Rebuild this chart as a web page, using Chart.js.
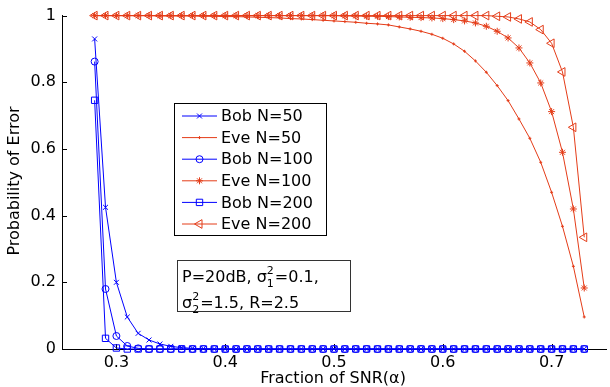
<!DOCTYPE html>
<html>
<head>
<meta charset="utf-8">
<script src="https://cdn.jsdelivr.net/npm/chart.js@4"></script>
<style>
  html, body { margin: 0; padding: 0; background: #fff; overflow: hidden; }
  #contenedor { position: relative; width: 612px; height: 387px; }
</style>
</head>
<body>
<div id="contenedor"><canvas id="grafico"></canvas></div>
<script>
// fraction of SNR (alpha)
const alpha = [
  0.28, 0.29, 0.30, 0.31, 0.32, 0.33, 0.34, 0.35, 0.36, 0.37,
  0.38, 0.39, 0.40, 0.41, 0.42, 0.43, 0.44, 0.45, 0.46, 0.47,
  0.48, 0.49, 0.50, 0.51, 0.52, 0.53, 0.54, 0.55, 0.56, 0.57,
  0.58, 0.59, 0.60, 0.61, 0.62, 0.63, 0.64, 0.65, 0.66, 0.67,
  0.68, 0.69, 0.70, 0.71, 0.72, 0.73
];

const bobN50 = [
  0.93, 0.425, 0.2, 0.096, 0.047, 0.027, 0.015, 0.008, 0.004, 0.002,
  0.001, 0, 0, 0, 0, 0, 0, 0, 0, 0,
  0, 0, 0, 0, 0, 0, 0, 0, 0, 0,
  0, 0, 0, 0, 0, 0, 0, 0, 0, 0,
  0, 0, 0, 0, 0, 0
];
const eveN50 = [
  1, 1, 1, 1, 1, 1, 0.999, 0.999, 0.999, 0.999,
  0.998, 0.998, 0.997, 0.997, 0.996, 0.995, 0.994, 0.993, 0.991, 0.990,
  0.988, 0.986, 0.984, 0.982, 0.980, 0.977, 0.975, 0.972, 0.966, 0.960,
  0.953, 0.944, 0.932, 0.915, 0.893, 0.864, 0.830, 0.790, 0.745, 0.690,
  0.632, 0.560, 0.470, 0.368, 0.248, 0.096
];
const bobN100 = [
  0.862, 0.18, 0.039, 0.009, 0.002, 0, 0, 0, 0, 0,
  0, 0, 0, 0, 0, 0, 0, 0, 0, 0,
  0, 0, 0, 0, 0, 0, 0, 0, 0, 0,
  0, 0, 0, 0, 0, 0, 0, 0, 0, 0,
  0, 0, 0, 0, 0, 0
];
const eveN100 = [
  1, 1, 1, 1, 1, 1, 1, 1, 1, 1,
  1, 1, 1, 1, 1, 1, 1, 1, 1, 1,
  1, 1, 1, 0.999, 0.999, 0.998, 0.998, 0.997, 0.996, 0.995,
  0.994, 0.993, 0.991, 0.988, 0.984, 0.978, 0.968, 0.953, 0.933, 0.903,
  0.858, 0.798, 0.712, 0.590, 0.420, 0.183
];
const bobN200 = [
  0.746, 0.032, 0.003, 0, 0, 0, 0, 0, 0, 0,
  0, 0, 0, 0, 0, 0, 0, 0, 0, 0,
  0, 0, 0, 0, 0, 0, 0, 0, 0, 0,
  0, 0, 0, 0, 0, 0, 0, 0, 0, 0,
  0, 0, 0, 0, 0, 0
];
const eveN200 = [
  1, 1, 1, 1, 1, 1, 1, 1, 1, 1,
  1, 1, 1, 1, 1, 1, 1, 1, 1, 1,
  1, 1, 1, 1, 1, 1, 1, 1, 1, 1,
  1, 1, 1, 1, 1, 1, 1, 0.998, 0.996, 0.990,
  0.981, 0.958, 0.917, 0.831, 0.665, 0.335
];

const xTicks = [0.3, 0.4, 0.5, 0.6, 0.7];
const yTicks = [0, 0.2, 0.4, 0.6, 0.8, 1];

const AZUL = "#0000ff";
const ROJO = "#e43c18";
const FUENTE = "'DejaVu Sans', sans-serif";

const puntos = serie => alpha.map((a, i) => ({ x: a, y: serie[i] }));

function serie(label, datos, color, estilo, radio, rot = 0) {
  return {
    label,
    data: puntos(datos),
    borderColor: color,
    backgroundColor: "rgba(0,0,0,0)",
    borderWidth: 1,
    pointStyle: estilo,
    pointRadius: radio,
    pointRotation: rot,
    pointBorderColor: color,
    pointBackgroundColor: "rgba(0,0,0,0)",
    pointBorderWidth: 1,
    tension: 0,
    clip: false,
  };
}

const datasets = [
  serie("Bob N=50", bobN50, AZUL, "crossRot", 3.5),
  serie("Eve N=50", eveN50, ROJO, "cross", 1.5),
  serie("Bob N=100", bobN100, AZUL, "circle", 3.5),
  serie("Eve N=100", eveN100, ROJO, "star", 3.5),
  serie("Bob N=200", bobN200, AZUL, "rect", 4.5),
  serie("Eve N=200", eveN200, ROJO, "triangle", 5, -90),
];
datasets.forEach((d, i) => (d.order = datasets.length - i));

// texto con super/subindices
function textoRico(ctx, partes, x, y) {
  let cx = x;
  partes.forEach(([t, tipo, t2]) => {
    if (tipo === "n") {
      ctx.font = `16px ${FUENTE}`;
      ctx.fillText(t, cx, y);
      cx += ctx.measureText(t).width;
    } else {
      ctx.font = `11px ${FUENTE}`;
      ctx.fillText(t, cx, y - 8);
      ctx.fillText(t2, cx, y + 5);
      cx += Math.max(ctx.measureText(t).width, ctx.measureText(t2).width) + 1;
    }
  });
}

const decoracion = {
  id: "decoracion",
  beforeDatasetsDraw(chart) {
    const { ctx, chartArea: a, scales: { x, y } } = chart;
    ctx.save();
    ctx.strokeStyle = "#000";
    ctx.lineWidth = 1;
    ctx.beginPath();
    xTicks.forEach(v => {
      const px = Math.round(x.getPixelForValue(v)) + 0.5;
      ctx.moveTo(px, a.bottom);
      ctx.lineTo(px, a.bottom - 5);
    });
    yTicks.forEach(v => {
      const py = Math.round(y.getPixelForValue(v)) + 0.5;
      ctx.moveTo(a.left, py);
      ctx.lineTo(a.left + 5, py);
    });
    ctx.stroke();
    ctx.restore();
  },
  afterDraw(chart) {
    const { ctx } = chart;
    ctx.save();
    ctx.fillStyle = "#000";
    ctx.font = `16px ${FUENTE}`;

    // titulos de ejes
    ctx.textAlign = "center";
    ctx.textBaseline = "middle";
    ctx.fillText("Fraction of SNR(\u03b1)", 333, 379);
    ctx.save();
    ctx.translate(15, 181);
    ctx.rotate(-Math.PI / 2);
    ctx.fillText("Probability of Error", 0, 0);
    ctx.restore();

    // leyenda
    ctx.fillStyle = "#fff";
    ctx.fillRect(174.5, 103.5, 152, 132);
    ctx.strokeStyle = "#000";
    ctx.lineWidth = 1;
    ctx.strokeRect(174.5, 103.5, 152, 132);
    ctx.textAlign = "left";
    datasets.forEach((d, i) => {
      const yy = 116 + i * 21.6;
      ctx.strokeStyle = d.borderColor;
      ctx.beginPath();
      ctx.moveTo(182, yy);
      ctx.lineTo(217, yy);
      ctx.stroke();
      ctx.fillStyle = "rgba(0,0,0,0)";
      Chart.helpers.drawPoint(ctx, {
        pointStyle: d.pointStyle,
        radius: d.pointRadius,
        rotation: d.pointRotation,
        borderWidth: 1,
      }, 199.5, yy);
      ctx.fillStyle = "#000";
      ctx.font = `16px ${FUENTE}`;
      ctx.fillText(d.label, 221, yy + 1);
    });

    // recuadro de parametros
    ctx.fillStyle = "#fff";
    ctx.fillRect(177.5, 260.5, 173, 51);
    ctx.strokeStyle = "#333";
    ctx.strokeRect(177.5, 260.5, 173, 51);
    ctx.fillStyle = "#000";
    ctx.textBaseline = "alphabetic";
    textoRico(ctx, [["P=20dB, \u03c3", "n"], ["2", "s", "1"], ["=0.1,", "n"]], 182, 282);
    textoRico(ctx, [["\u03c3", "n"], ["2", "s", "2"], ["=1.5, R=2.5", "n"]], 182, 308);
    ctx.restore();
  },
};

new Chart(document.getElementById("grafico"), {
  type: "line",
  data: { datasets },
  options: {
    responsive: true,
    maintainAspectRatio: false,
    animation: false,
    layout: { padding: { top: 12, right: 0, left: 0, bottom: 0 } },
    plugins: { legend: { display: false }, tooltip: { enabled: false } },
    scales: {
      x: {
        type: "linear",
        min: 0.25,
        max: 0.75,
        afterBuildTicks: s => { s.ticks = xTicks.map(v => ({ value: v })); },
        afterFit: s => { s.height = 38; },
        grid: { display: false, drawTicks: false, tickLength: 0 },
        border: { display: true, color: "#000", width: 1 },
        ticks: {
          color: "#000",
          font: { family: FUENTE, size: 16 },
          padding: 4,
          maxRotation: 0,
          callback: v => String(Math.round(v * 10) / 10),
        },
      },
      y: {
        type: "linear",
        min: 0,
        max: 1,
        afterBuildTicks: s => { s.ticks = yTicks.map(v => ({ value: v })); },
        afterFit: s => { s.width = 62; },
        grid: { display: false, drawTicks: false, tickLength: 0 },
        border: { display: true, color: "#000", width: 1 },
        ticks: {
          color: "#000",
          font: { family: FUENTE, size: 16 },
          padding: 6,
          callback: v => String(Math.round(v * 10) / 10),
        },
      },
    },
  },
  plugins: [decoracion],
});
</script>
</body>
</html>
